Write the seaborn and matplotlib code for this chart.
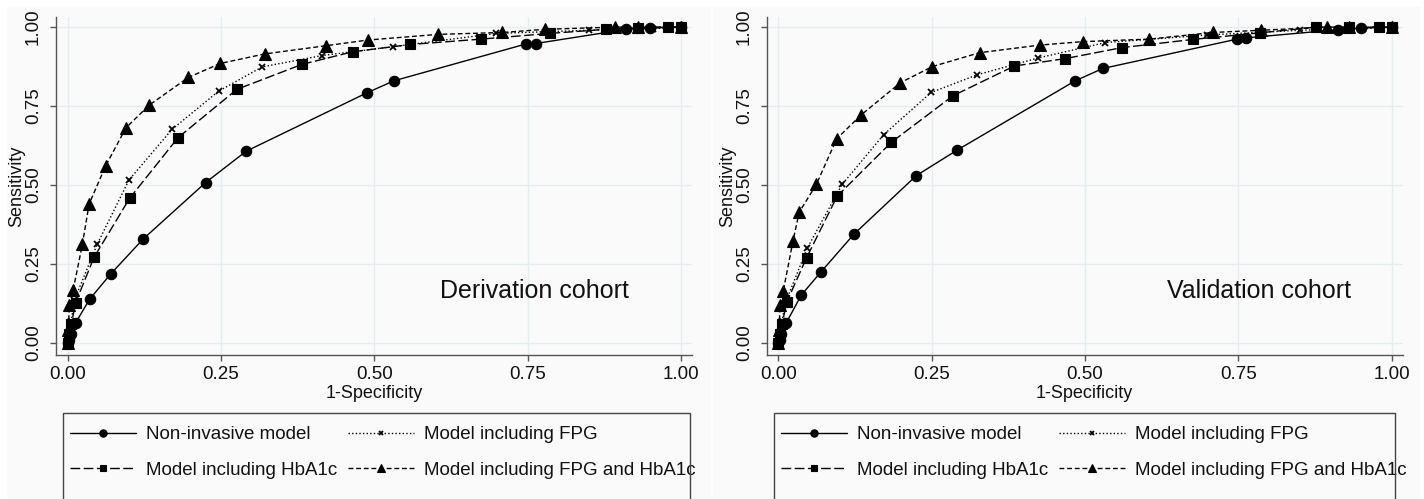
import numpy as np
import matplotlib
matplotlib.use('Agg')
import matplotlib.pyplot as plt
import matplotlib.patches as mpatches
import seaborn as sns

# ── data: ROC points (1-specificity, sensitivity) ──
labels = ['Non-invasive model', 'Model including FPG',
          'Model including HbA1c', 'Model including FPG and HbA1c']

# Derivation cohort
der_ni_x   = [0, 0.002, 0.005, 0.013, 0.036, 0.070, 0.123, 0.225, 0.291, 0.488, 0.532, 0.748, 0.763, 0.911, 0.95, 1.0]
der_ni_y   = [0, 0.010, 0.030, 0.064, 0.139, 0.218, 0.329, 0.508, 0.607, 0.792, 0.830, 0.947, 0.948, 0.993, 0.997, 1.0]
der_fpg_x  = [0, 0.002, 0.006, 0.011, 0.048, 0.100, 0.170, 0.246, 0.317, 0.415, 0.530, 0.699, 0.85, 0.954, 1.0]
der_fpg_y  = [0, 0.020, 0.070, 0.136, 0.312, 0.516, 0.676, 0.797, 0.874, 0.910, 0.938, 0.980, 0.99, 0.995, 1.0]
der_hba_x  = [0, 0.002, 0.006, 0.013, 0.043, 0.101, 0.180, 0.276, 0.382, 0.465, 0.559, 0.674, 0.786, 0.878, 0.93, 0.979, 1.0]
der_hba_y  = [0, 0.030, 0.060, 0.128, 0.271, 0.458, 0.650, 0.803, 0.882, 0.922, 0.945, 0.962, 0.980, 0.993, 0.998, 1.0, 1.0]
der_both_x = [0, 0.001, 0.003, 0.009, 0.024, 0.035, 0.062, 0.095, 0.133, 0.197, 0.249, 0.321, 0.421, 0.489, 0.604, 0.709, 0.778, 0.892, 0.93, 1.0]
der_both_y = [0, 0.040, 0.120, 0.168, 0.312, 0.440, 0.561, 0.681, 0.753, 0.841, 0.885, 0.915, 0.941, 0.959, 0.977, 0.983, 0.993, 1.0, 1.0, 1.0]

# Validation cohort
val_ni_x   = [0, 0.002, 0.005, 0.013, 0.0375, 0.070, 0.123, 0.225, 0.291, 0.484, 0.529, 0.748, 0.763, 0.913, 0.95, 1.0]
val_ni_y   = [0, 0.010, 0.030, 0.064, 0.152, 0.226, 0.344, 0.530, 0.610, 0.830, 0.869, 0.962, 0.966, 0.992, 0.997, 1.0]
val_fpg_x  = [0, 0.002, 0.006, 0.012, 0.047, 0.104, 0.172, 0.249, 0.324, 0.423, 0.533, 0.699, 0.85, 0.954, 1.0]
val_fpg_y  = [0, 0.020, 0.070, 0.130, 0.300, 0.502, 0.660, 0.793, 0.849, 0.902, 0.951, 0.975, 0.99, 0.995, 1.0]
val_hba_x  = [0, 0.002, 0.006, 0.014, 0.046, 0.096, 0.184, 0.285, 0.385, 0.467, 0.560, 0.676, 0.786, 0.877, 0.93, 0.979, 1.0]
val_hba_y  = [0, 0.030, 0.060, 0.131, 0.270, 0.465, 0.635, 0.783, 0.877, 0.900, 0.935, 0.961, 0.982, 1.0, 1.0, 1.0, 1.0]
val_both_x = [0, 0.001, 0.003, 0.008, 0.024, 0.034, 0.062, 0.095, 0.135, 0.199, 0.251, 0.328, 0.426, 0.496, 0.605, 0.708, 0.787, 0.895, 0.93, 1.0]
val_both_y = [0, 0.040, 0.120, 0.165, 0.324, 0.414, 0.502, 0.646, 0.722, 0.824, 0.875, 0.919, 0.943, 0.954, 0.962, 0.983, 0.990, 1.0, 1.0, 1.0]

ticks = [0.00, 0.25, 0.50, 0.75, 1.00]
tick_labels = ['0.00', '0.25', '0.50', '0.75', '1.00']

# ── style ──
sns.set_theme(style='ticks')
plt.rcParams['font.family'] = ['Liberation Sans', 'DejaVu Sans']

# line style / marker per model
styles = [
    dict(linestyle='-',              marker='o', markersize=7.5, mew=0.8),
    dict(linestyle=(0, (1, 1.6)),    marker='x', markersize=4.0, mew=1.3),
    dict(linestyle=(0, (7, 2.5)),    marker='s', markersize=7.0, mew=0.8),
    dict(linestyle=(0, (3.5, 2)),    marker='^', markersize=8.0, mew=0.8),
]

panels = [
    ('Derivation cohort', 0.607,
     [(der_ni_x, der_ni_y), (der_fpg_x, der_fpg_y), (der_hba_x, der_hba_y), (der_both_x, der_both_y)]),
    ('Validation cohort', 0.634,
     [(val_ni_x, val_ni_y), (val_fpg_x, val_fpg_y), (val_hba_x, val_hba_y), (val_both_x, val_both_y)]),
]

fig = plt.figure(figsize=(14.24, 4.99), dpi=100, facecolor='white')

# light grey panel backgrounds
for x0, x1 in [(7, 711), (713, 1420)]:
    fig.patches.append(mpatches.Rectangle((x0 / 1424, 0), (x1 - x0) / 1424, 1 - 7 / 499,
                                          transform=fig.transFigure, facecolor='#fafafa',
                                          edgecolor='none', zorder=-10))

ax_left_px = [56, 766.7]
leg_box_px = [(63, 690), (774, 1395)]

for i, (title, tx, series) in enumerate(panels):
    ax = fig.add_axes([ax_left_px[i] / 1424, 144 / 499, 636 / 1424, 338 / 499])
    ax.set_facecolor('none')

    for (xs, ys), st, lab in zip(series, styles, labels):
        sns.lineplot(x=xs, y=ys, ax=ax, color='black', lw=1.0,
                     linestyle=st['linestyle'], marker=st['marker'],
                     markersize=st['markersize'], markeredgewidth=st['mew'],
                     markeredgecolor='black', markerfacecolor='black',
                     estimator=None, sort=False, legend=False, label=lab)

    ax.set_xlim(-0.019, 1.018)
    ax.set_ylim(-0.038, 1.032)
    ax.set_xticks(ticks)
    ax.set_xticklabels(tick_labels)
    ax.set_yticks(ticks)
    ax.set_yticklabels(tick_labels, rotation=90, va='center')
    ax.grid(True, color='#e3eef0', lw=1.0)
    ax.set_axisbelow(True)
    for s in ['top', 'right']:
        ax.spines[s].set_visible(False)
    for s in ['left', 'bottom']:
        ax.spines[s].set_color('#555555')
        ax.spines[s].set_linewidth(1.0)
    ax.tick_params(axis='both', colors='#555555', length=4, width=1.0,
                   labelsize=13.5, labelcolor='#111111')
    ax.tick_params(axis='x', pad=4)
    ax.tick_params(axis='y', pad=6)
    ax.set_xlabel('1-Specificity', fontsize=13, labelpad=1, color='#111111')
    ax.set_ylabel('Sensitivity', fontsize=13, labelpad=0, color='#111111')

    ax.text(tx, 0.165, title, fontsize=18, va='center', ha='left', color='#111111')

    # legend box (cut off by the bottom of the picture)
    bx0, bx1 = leg_box_px[i]
    fig.patches.append(mpatches.Rectangle((bx0 / 1424, -0.1), (bx1 - bx0) / 1424, 0.1 + 1 - 413 / 499,
                                          transform=fig.transFigure, facecolor='none',
                                          edgecolor='#444444', lw=1.0))
    handles, labs = ax.get_legend_handles_labels()
    order = [0, 2, 1, 3]  # fill rows: (non-invasive, FPG), (HbA1c, FPG+HbA1c)
    leg = ax.legend([handles[k] for k in order], [labs[k] for k in order],
                    ncol=2, loc='upper left',
                    bbox_to_anchor=((bx0 + 7) / 1424, 1 - 426 / 499),
                    bbox_transform=fig.transFigure, frameon=False,
                    fontsize=13.5, handlelength=3.5, handletextpad=0.55,
                    columnspacing=0.6, labelspacing=1.0, borderpad=0,
                    borderaxespad=0, markerscale=0.7, numpoints=1)
    for t in leg.get_texts():
        t.set_color('#111111')

fig.savefig('out.png', dpi=100, facecolor='white')
